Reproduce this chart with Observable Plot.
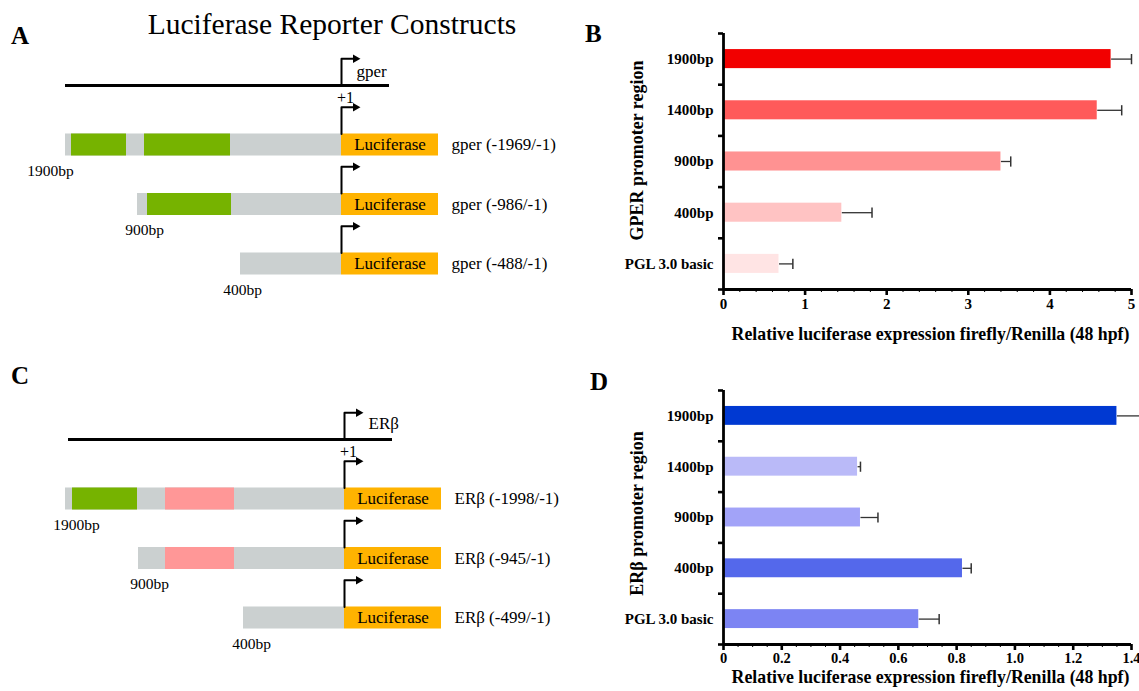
<!DOCTYPE html>
<html><head><meta charset="utf-8">
<script src="https://cdn.jsdelivr.net/npm/d3@7"></script>
<script src="https://cdn.jsdelivr.net/npm/@observablehq/plot@0.6"></script>
<style>
body{margin:0;background:#fff;}
#fig{position:relative;width:1139px;height:691px;overflow:hidden;background:#fff;font-family:"Liberation Serif","Times New Roman",serif;color:#000;}
.abs{position:absolute;line-height:1;white-space:nowrap;}
.letter{font-weight:bold;font-size:25px;}
#fig svg{overflow:visible;}
</style></head><body><div id="fig"></div>
<script>
// ---------- Panel A / C : construct diagrams (schematic units, +1 = 0) ----------
const rowIds = [1, 2, 3];
const gperLabels = ["gper (-1969/-1)", "gper (-986/-1)", "gper (-488/-1)"];
const erbLabels = ["ERβ (-1998/-1)", "ERβ (-945/-1)", "ERβ (-499/-1)"];
const sizeLabels = ["1900bp", "900bp", "400bp"];
const gperStart = [-276, -204, -101];
const erbStart = [-279, -206, -101];
const gperSizeX = [-291, -197, -99];
const erbSizeX = [-268, -195, -93];
const gperGreenRow = [1, 1, 2];
const gperGreenFrom = [-270, -197, -194];
const gperGreenTo = [-215, -111, -110];
const erbGreenRow = [1];
const erbGreenFrom = [-272];
const erbGreenTo = [-207];
const erbPinkRow = [1, 2];
const erbPinkFrom = [-179, -179];
const erbPinkTo = [-110, -110];
const lucEnd = 97;
const lineExtent = [-276, 48];

// ---------- Panel B / D : bar charts ----------
const categories = ["1900bp", "1400bp", "900bp", "400bp", "PGL 3.0 basic"];
const gperValues = [4.75, 4.58, 3.40, 1.45, 0.68];
const gperErrTop = [5.00, 4.88, 3.52, 1.82, 0.85];
const gperColors = ["#f20000", "#ff5a5a", "#ff9292", "#ffc3c3", "#ffe4e4"];
const erbValues = [1.35, 0.46, 0.47, 0.82, 0.67];
const erbErrTop = [1.43, 0.47, 0.53, 0.85, 0.74];
const erbColors = ["#0039d2", "#babaf8", "#a2a3f8", "#5468eb", "#7c84f3"];
const gperTicks = [0, 1, 2, 3, 4, 5];
const erbTicks = [0, 0.2, 0.4, 0.6, 0.8, 1.0, 1.2, 1.4];
const xTitle = "Relative luciferase expression firefly/Renilla (48 hpf)";

const fig = document.getElementById("fig");
function place(node, left, top) {
  node.style.position = "absolute";
  node.style.left = left + "px";
  node.style.top = top + "px";
  fig.appendChild(node);
}
function addText(txt, cls, left, top, extra) {
  const d = document.createElement("div");
  d.className = "abs " + cls;
  d.textContent = txt;
  d.style.left = left + "px";
  d.style.top = top + "px";
  if (extra) Object.assign(d.style, extra);
  fig.appendChild(d);
}

const serif = "Liberation Serif, Times New Roman, serif";

function diagram(cfg) {
  const H = 0.185;
  const rows = rowIds.map((r, i) => ({row: r, start: cfg.start[i], label: cfg.labels[i], size: cfg.sizes[i], sizeX: cfg.sizeX[i]}));
  const arrowBase = [0, ...rowIds.map(r => r - H)];
  const arm = 0.45;
  const arrowPts = arrowBase.flatMap((y, k) => [
    {k, x: 0, y}, {k, x: 0, y: y - arm}, {k, x: 12, y: y - arm}
  ]);
  const heads = arrowBase.map(y => ({y: y - arm}));
  const elementMarks = cfg.elements.map(el => Plot.rect(el.row.map((r, i) => ({row: r, x1: el.from[i], x2: el.to[i]})), {
    x1: "x1", x2: "x2", y1: d => d.row - H, y2: d => d.row + H, fill: el.color
  }));
  return Plot.plot({
    width: 580, height: cfg.height, margin: 0,
    x: {domain: [-341, 239], range: [0, 580], axis: null},
    y: {domain: [0, 3], range: [85, 263.5], axis: null},
    style: {fontFamily: serif, fontSize: "17px", background: "transparent"},
    marks: [
      Plot.ruleY([0], {x1: lineExtent[0], x2: lineExtent[1], strokeWidth: 2.8, stroke: "#000"}),
      Plot.rect(rows, {x1: "start", x2: 0, y1: d => d.row - H, y2: d => d.row + H, fill: "#cbd0d0"}),
      ...elementMarks,
      Plot.rect(rows, {x1: 0, x2: lucEnd, y1: d => d.row - H, y2: d => d.row + H, fill: "#ffb300"}),
      Plot.text(rows, {x: lucEnd / 2, y: "row", text: () => "Luciferase", fontSize: 17}),
      Plot.text(rows, {x: 110, y: "row", text: "label", textAnchor: "start", fontSize: 17}),
      Plot.text(rows, {x: "sizeX", y: d => d.row + 0.43, text: "size", fontSize: 15.5}),
      Plot.line(arrowPts, {x: "x", y: "y", z: "k", strokeWidth: 2, stroke: "#000", curve: "linear"}),
      Plot.dot(heads, {x: 14, y: "y", symbol: "triangle", rotate: 90, r: 3.2, fill: "#000", stroke: null}),
      Plot.text([cfg.gene], {x: cfg.geneX, y: cfg.geneY, textAnchor: "start", fontSize: 17}),
      Plot.text(["+1"], {x: 4, y: 0.2, fontSize: 16})
    ]
  });
}

function barChart(cfg) {
  const H = 0.186;
  const data = categories.map((c, i) => ({i, cat: c, v: cfg.values[i], e: cfg.errs[i], color: cfg.colors[i]}));
  const bounds = d3.range(-0.5, 5, 1);
  const minor = d3.range(0, cfg.max + 1e-9, cfg.minorStep).filter(t => !cfg.ticks.some(m => Math.abs(m - t) < 1e-9));
  return Plot.plot({
    width: 559, height: cfg.height,
    marginLeft: 143, marginRight: 8, marginTop: cfg.top, marginBottom: cfg.bottom,
    x: {domain: [0, cfg.max], label: null},
    y: {domain: [4.5, -0.5], label: null},
    style: {fontFamily: serif, fontSize: "15px", fontWeight: "bold", background: "transparent"},
    marks: [
      Plot.rect(data, {x1: 0, x2: "v", y1: d => d.i - H, y2: d => d.i + H, fill: d => d.color}),
      Plot.link(data, {x1: "v", x2: "e", y1: "i", y2: "i", stroke: "#333", strokeWidth: 1.3}),
      Plot.link(data, {x1: "e", x2: "e", y1: d => d.i - 0.1, y2: d => d.i + 0.1, stroke: "#333", strokeWidth: 1.5}),
      Plot.axisX({ticks: minor, tickSize: 3, strokeWidth: 1, tickFormat: () => "", label: null}),
      Plot.axisX({ticks: cfg.ticks, tickSize: 6, strokeWidth: 2.6, tickPadding: cfg.tickPad, tickFormat: cfg.fmt, label: null, fontSize: cfg.tickFont}),
      Plot.axisY({ticks: bounds, tickSize: 5, strokeWidth: 2.6, tickFormat: () => "", label: null}),
      Plot.axisY({ticks: [0, 1, 2, 3, 4], tickSize: 0, tickPadding: 10, tickFormat: i => categories[i], label: null}),
      Plot.ruleX([0], {strokeWidth: 2.8, stroke: "#000"}),
      Plot.ruleY([4.5], {strokeWidth: 2.8, stroke: "#000"}),
      Plot.text([xTitle], {frameAnchor: "bottom", textAnchor: "middle", dy: cfg.titleDy, dx: 3, fontSize: 17.8, fontWeight: "bold"}),
      Plot.text([cfg.yTitle], {frameAnchor: "left", textAnchor: "middle", rotate: -90, dx: -86, dy: cfg.yTitleDy, fontSize: 18, fontWeight: "bold"})
    ]
  });
}

// Panel A
place(diagram({
  height: 320, start: gperStart, labels: gperLabels, sizes: sizeLabels, sizeX: gperSizeX,
  elements: [{row: gperGreenRow, from: gperGreenFrom, to: gperGreenTo, color: "#76b300"}],
  gene: "gper", geneX: 15, geneY: -0.235
}), 0, 0);

// Panel C
place(diagram({
  height: 337, start: erbStart, labels: erbLabels, sizes: sizeLabels, sizeX: erbSizeX,
  elements: [
    {row: erbGreenRow, from: erbGreenFrom, to: erbGreenTo, color: "#76b300"},
    {row: erbPinkRow, from: erbPinkFrom, to: erbPinkTo, color: "#ff9797"}
  ],
  gene: "ERβ", geneX: 24, geneY: -0.27
}), 3, 354);

// Panel B
place(barChart({
  height: 350, top: 33, bottom: 61, max: 5, minorStep: 0.2, ticks: gperTicks, fmt: d => String(d),
  tickPad: 3, tickFont: 15,
  values: gperValues, errs: gperErrTop, colors: gperColors,
  yTitle: "GPER promoter region", yTitleDy: -11, titleDy: 50
}), 580, 0);

// Panel D
place(barChart({
  height: 346, top: 45, bottom: 47, max: 1.4, minorStep: 0.05, ticks: erbTicks,
  fmt: d => d === 0 ? "0" : d.toFixed(1), tickPad: 2, tickFont: 14.5,
  values: erbValues, errs: erbErrTop, colors: erbColors,
  yTitle: "ERβ promoter region", yTitleDy: -4, titleDy: 38
}), 580, 345);

// Panel letters and title
addText("A", "letter", 11, 23);
addText("B", "letter", 585, 21);
addText("C", "letter", 11, 363);
addText("D", "letter", 590, 369);
addText("Luciferase Reporter Constructs", "", 332, 10, {fontSize: "29.5px", transform: "translateX(-50%)"});
</script></body></html>
